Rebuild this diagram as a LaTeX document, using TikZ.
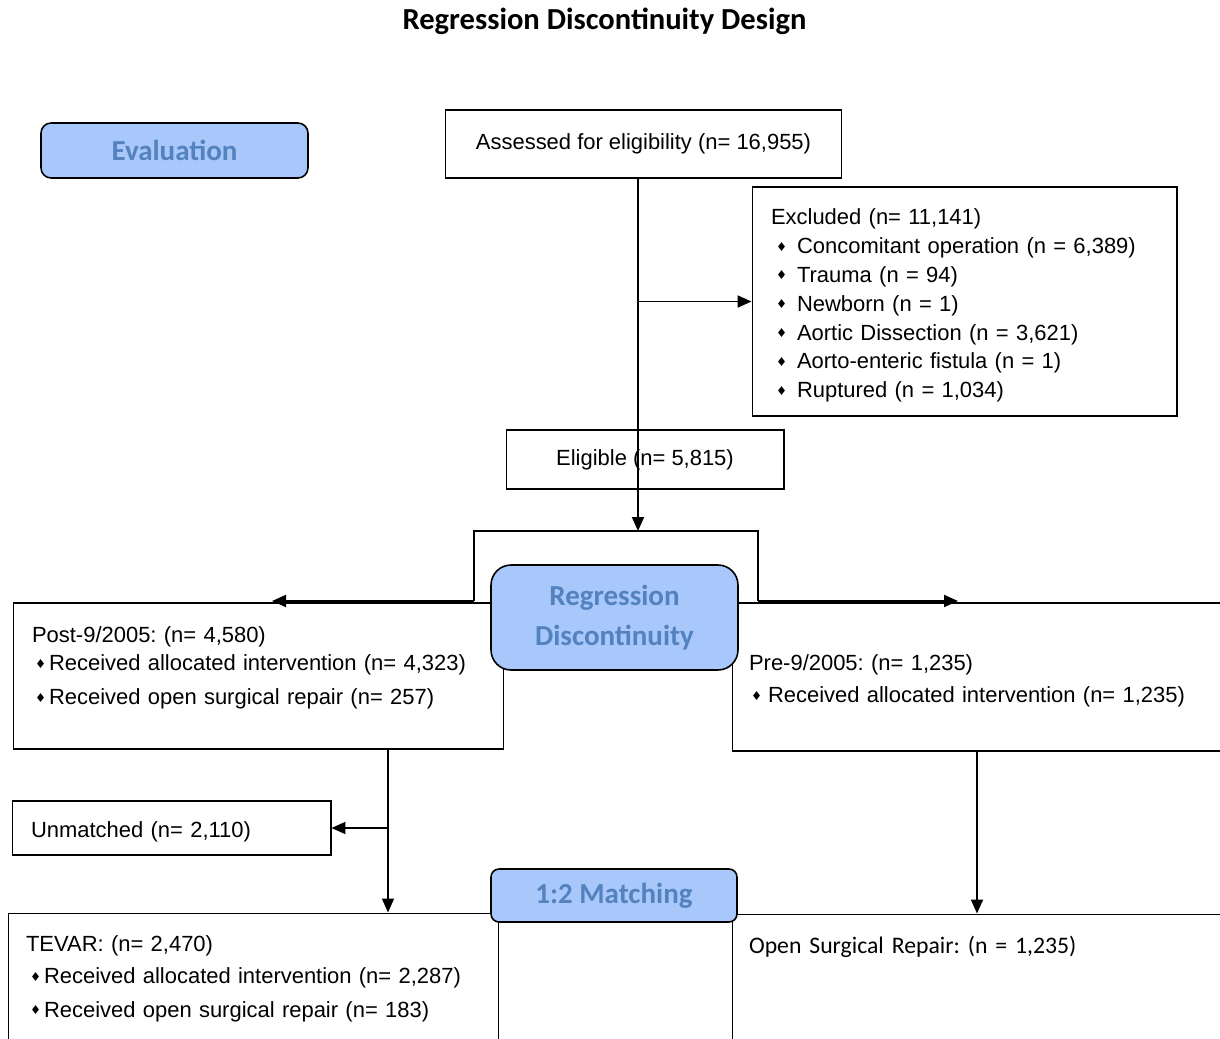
\documentclass[tikz,border=0pt]{standalone}
\usepackage{fontspec}
\setmainfont{Liberation Sans}
\newfontfamily\calibri{Carlito}
\newfontfamily\symfont{DejaVu Sans}
\usetikzlibrary{arrows.meta,positioning,calc}

\definecolor{boxblue}{RGB}{168,199,250}
\definecolor{labelblue}{RGB}{84,130,190}

\newcommand{\dmd}{\raisebox{1.5pt}{\symfont\fontsize{7}{7}\selectfont ♦}}
\newcommand{\bul}[2]{\hspace*{#1}\makebox[#2][l]{\dmd}}
\frenchspacing

\begin{document}
\begin{tikzpicture}[x=0.02cm, y=-0.02cm,
    box/.style={draw, rectangle, line width=0.6pt, inner sep=0pt, font=\fontsize{12.5}{16.4}\selectfont},
    listbox/.style={box, align=left, inner xsep=0.38cm},
    stage/.style={draw, rounded corners=2mm, fill=boxblue, line width=0.9pt, text=labelblue, font=\calibri\bfseries\fontsize{16.5}{22.7}\selectfont, align=center},
    arrow/.style={-{Triangle[length=2.8mm, width=2.4mm]}, line width=1.1pt},
    link/.style={line width=1.1pt}
]
\path[use as bounding box] (0,0) rectangle (1220,1038);
\clip (0,0) rectangle (1220,1038);

% Title
\node[font=\calibri\bfseries\fontsize{17.4}{20}\selectfont] (title) at (604.5,21) {Regression Discontinuity Design};

% Stage labels
\node[stage, minimum width=5.34cm, minimum height=1.10cm] (evaluation) at (174.5,150.5) {Evaluation};

% Screening
\node[box, minimum width=7.94cm, minimum height=1.36cm] (assess) at (643.5,144) {Assessed for eligibility (n= 16,955)};
\node[listbox, text width=7.74cm, minimum width=8.5cm, minimum height=4.58cm] (excluded) at (964.5,301.5) {\rule{0pt}{13.8pt}Excluded (n= 11,141)\\
  \bul{1mm}{4.2mm}Concomitant operation (n = 6,389)\\
  \bul{1mm}{4.2mm}Trauma (n = 94)\\
  \bul{1mm}{4.2mm}Newborn (n = 1)\\
  \bul{1mm}{4.2mm}Aortic Dissection (n = 3,621)\\
  \bul{1mm}{4.2mm}Aorto-enteric fistula (n = 1)\\
  \bul{1mm}{4.2mm}Ruptured (n = 1,034)};
\node[box, minimum width=5.56cm, minimum height=1.18cm] (eligible) at (645,459.5) {Eligible (n= 5,815)};

% Groups
\node[listbox, text width=9.06cm, minimum width=9.82cm, minimum height=2.92cm] (post) at (258.5,676) {Post-9/2005: (n= 4,580)\\
  \bul{0.6mm}{2.8mm}Received allocated intervention (n= 4,323)\\[2.9pt]
  \bul{0.6mm}{2.8mm}Received open surgical repair (n= 257)\rule[-12pt]{0pt}{0pt}};
\node[listbox, inner xsep=0.34cm, text width=10.28cm, minimum width=10.96cm, minimum height=2.96cm] (pre) at (1006,677) {\rule{0pt}{13.8pt}Pre-9/2005: (n= 1,235)\\[1.7pt]
  \bul{0.4mm}{3.4mm}Received allocated intervention (n= 1,235)};

% Matching
\node[listbox, text width=5.62cm, minimum width=6.38cm, minimum height=1.08cm] (unmatched) at (171.5,828) {\rule{0pt}{13.8pt}Unmatched (n= 2,110)};
\node[listbox, inner xsep=0.36cm, text width=9.10cm, minimum width=9.82cm, minimum height=2.64cm] (tevar) at (253.5,979) {TEVAR: (n= 2,470)\\[1.7pt]
  \bul{0.8mm}{2.8mm}Received allocated intervention (n= 2,287)\\[2.9pt]
  \bul{0.8mm}{2.8mm}Received open surgical repair (n= 183)};
\node[listbox, inner xsep=0.34cm, text width=10.28cm, minimum width=10.96cm, minimum height=3.32cm, font=\calibri\fontsize{13.5}{16}\selectfont] (osr) at (1006,997) {Open Surgical Repair: (n = 1,235)\rule[-59pt]{0pt}{0pt}};

% Connector points
\coordinate (split) at (638,531);
\coordinate (brl) at (474,601);
\coordinate (brr) at (758,601);
\coordinate (postin) at (272,601);
\coordinate (prein) at (958,601);
\coordinate (postout) at (388,749);
\coordinate (preout) at (977,751);

% Arrows
\draw[arrow] (assess.south -| split) -- (split);
\draw[arrow] (excluded.west -| split) -- (excluded.west);
\draw[link] (brl) |- (split) -| (brr);
\draw[arrow] (brl) -- (postin);
\draw[arrow] (brr) -- (prein);
\draw[arrow] (postout) -- (postout |- tevar.north);
\draw[arrow] (postout |- unmatched.east) -- (unmatched.east);
\draw[arrow] (preout) -- (preout |- osr.north);

% Stage labels on top
\node[stage, rounded corners=4mm, minimum width=4.94cm, minimum height=2.10cm] (regdisc) at (614.5,617.5) {Regression\\Discontinuity};
\node[stage, rounded corners=1.6mm, minimum width=4.92cm, minimum height=1.06cm] (matching) at (614,895.5) {1:2 Matching};

\end{tikzpicture}
\end{document}
